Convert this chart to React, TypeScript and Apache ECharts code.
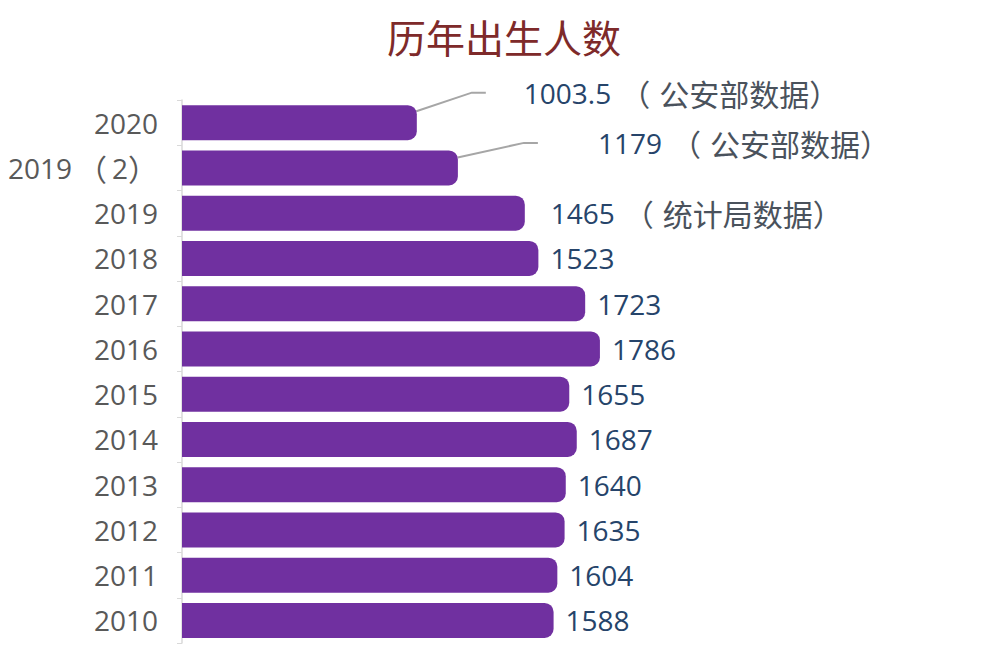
import React, { useEffect, useRef } from "react";
import * as echarts from "echarts";

const titleText = "历年出生人数";
const categories = ["2020", "2019（2）", "2019", "2018", "2017", "2016", "2015", "2014", "2013", "2012", "2011", "2010"];
const values = [1003.5, 1179, 1465, 1523, 1723, 1786, 1655, 1687, 1640, 1635, 1604, 1588];
const sources = ["公安部数据", "公安部数据", "统计局数据", "", "", "", "", "", "", "", "", ""];

const FONT = "'Open Sans', 'Noto Sans CJK SC', sans-serif";
const CJK = "'Noto Sans CJK SC', sans-serif";

export default function App() {
  const ref = useRef<HTMLDivElement>(null);
  useEffect(() => {
    if (!ref.current) return;
    const chart = echarts.init(ref.current, null, { renderer: "svg" });
    const labelShift: Record<number, { dx: number; dy: number }> = {
      0: { dx: 57, dy: -30 },
      1: { dx: 68, dy: -25 },
      2: { dx: 14, dy: 0 },
    };
    const labelGap: Record<number, string> = { 0: "g1", 1: "g2" };
    const splitCat = (s: string) => {
      const m = s.match(/^(\d+)（(\d+)）$/);
      if (m) return `{d|${m[1]}}{po|（}{d|${m[2]}}{pc|）}`;
      return `{d|${s}}`;
    };
    chart.setOption({
      animation: false,
      backgroundColor: "#ffffff",
      title: {
        text: titleText,
        left: 382,
        top: 11,
        textStyle: {
          fontFamily: CJK,
          fontSize: 39,
          fontWeight: "normal",
          color: "#7E2A2A",
        },
      },
      grid: { left: 182, right: 347, top: 100, bottom: 4, containLabel: false },
      xAxis: { type: "value", min: 0, max: 2000, show: false },
      yAxis: {
        type: "category",
        inverse: true,
        data: categories,
        axisLine: { show: true, lineStyle: { color: "#D9D9D9", width: 1.5 } },
        axisTick: { show: true, length: 5, lineStyle: { color: "#D9D9D9" } },
        axisLabel: {
          margin: 24,
          formatter: (v: string) => splitCat(v),
          rich: {
            d: { fontFamily: FONT, fontSize: 28, color: "#595959" },
            po: { fontFamily: CJK, fontSize: 30, color: "#595959", width: 40, align: "right" },
            pc: { fontFamily: CJK, fontSize: 30, color: "#595959", width: 30, align: "left" },
          },
        },
      },
      series: [
        {
          type: "bar",
          barWidth: 35,
          data: values.map((v, i) => ({
            value: v,
            labelLine: { show: i < 2 },
          })),
          itemStyle: { color: "#7030A0", borderRadius: [0, 9, 9, 0] },
          label: {
            show: true,
            position: "right",
            distance: 12,
            formatter: (p: any) => {
              const i = p.dataIndex;
              const s = sources[i];
              const gap = labelGap[i] ? `{${labelGap[i]}| }` : "";
              return s
                ? `${gap}{n|${values[i]}}{po|（}{s|${s}}{pc|）}`
                : `{n|${values[i]}}`;
            },
            rich: {
              g1: { width: 38, fontSize: 28 },
              g2: { width: 60, fontSize: 28 },
              n: { fontFamily: FONT, fontSize: 28, color: "#26446A" },
              po: { fontFamily: CJK, fontSize: 30, color: "#4A525C", width: 48, align: "right" },
              s: { fontFamily: CJK, fontSize: 30, color: "#4A525C" },
              pc: { fontFamily: CJK, fontSize: 30, color: "#4A525C", width: 30, align: "left" },
            },
          },
          labelLine: { length2: 14, lineStyle: { color: "#A6A6A6", width: 2 } },
          labelLayout: (p: any) => labelShift[p.dataIndex] || {},
        },
      ],
    });
    return () => chart.dispose();
  }, []);
  return <div ref={ref} style={{ position: "fixed", left: 0, top: 0, width: 997, height: 647 }} />;
}
